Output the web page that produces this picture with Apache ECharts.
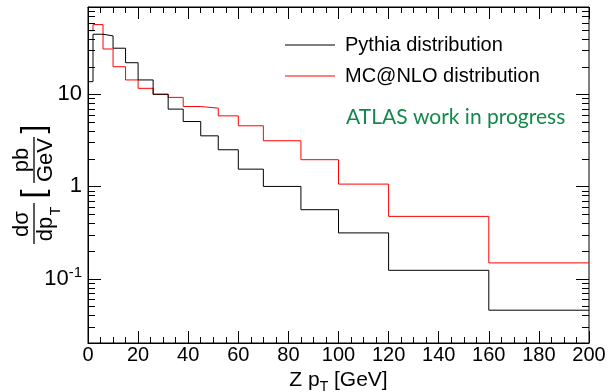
<!DOCTYPE html>
<html>
<head>
<meta charset="utf-8">
<script src="https://cdn.jsdelivr.net/npm/echarts@6/dist/echarts.min.js"></script>
<style>
  html, body { margin: 0; padding: 0; background: #ffffff; }
  #chart { width: 609px; height: 392px; }
</style>
</head>
<body>
<div id="chart"></div>
<script>
// Z pT bin edges [GeV]
const binEdges = [0, 2, 6, 10, 15, 20, 26, 32, 38, 45, 52, 60, 70, 85, 100, 120, 160, 200];
// dsigma/dpT [pb/GeV] per bin
const pythia  = [13.7, 44.8, 43.0, 31.6, 22.0, 14.3, 10.0, 6.9, 5.06, 3.54, 2.50, 1.54, 1.00, 0.559, 0.313, 0.123, 0.0454];
const mcatnlo = [49.0, 57.0, 31.0, 19.9, 14.3, 11.6, 10.0, 9.25, 7.36, 7.07, 5.83, 4.55, 3.13, 1.95, 1.06, 0.473, 0.148];
const seriesNames = ['Pythia distribution', 'MC@NLO distribution'];
const seriesColors = ['#000000', '#ff0000'];
const yDecadeLabels = { '-1': '10{sup|-1}', '0': '1', '1': '10' };

const Y_MIN = 0.02, Y_MAX = 88.5;
const FONT = 'Arial, "Liberation Sans", Helvetica, sans-serif';

// histogram outline: one point per bin left edge plus the closing right edge
function stepPoints(vals) {
  const pts = vals.map((v, i) => [binEdges[i], v]);
  pts.push([binEdges[binEdges.length - 1], vals[vals.length - 1]]);
  return pts;
}

function isDecade(v) {
  const l = Math.log10(v);
  return Math.abs(l - Math.round(l)) < 1e-6;
}

// log-axis tick values 1..9 x 10^n inside the y range
const yTickValues = [];
for (let e = -2; e <= 1; e++) {
  for (let m = 1; m <= 9; m++) {
    const v = +(m * Math.pow(10, e)).toPrecision(6);
    if (v >= Y_MIN - 1e-9 && v <= Y_MAX) yTickValues.push(v);
  }
}

const chart = echarts.init(document.getElementById('chart'), null, { renderer: 'canvas' });

const xAxisCommon = {
  type: 'value', min: 0, max: 200, interval: 20,
  splitLine: { show: false },
  axisLine: { show: true, onZero: false, lineStyle: { color: '#000', width: 1 } },
  axisTick: { show: true, inside: true, length: 12, lineStyle: { color: '#000' } },
  minorTick: { show: true, splitNumber: 4, length: 6, lineStyle: { color: '#000' } }
};

function t(text, x, y, size, va) {
  return {
    type: 'text', x: x, y: y,
    style: {
      text: text, font: size + 'px ' + FONT, fill: '#000',
      align: 'center', verticalAlign: va, textAlign: 'center', textVerticalAlign: va
    }
  };
}

chart.setOption({
  animation: false,
  backgroundColor: '#ffffff',
  grid: {
    left: 88, right: 20, top: 7, bottom: 49,
    show: true, borderColor: '#000', borderWidth: 1,
    containLabel: false, outerBoundsMode: 'none'
  },
  legend: {
    show: true,
    data: seriesNames,
    orient: 'vertical',
    left: 285, top: 35,
    padding: 0,
    icon: 'rect',
    itemWidth: 50, itemHeight: 1, itemGap: 11,
    selectedMode: false,
    textStyle: { fontFamily: FONT, fontSize: 20, color: '#000', padding: [0, 0, 0, 5] }
  },
  xAxis: [
    Object.assign({}, xAxisCommon, {
      position: 'bottom',
      axisLabel: { show: true, fontFamily: FONT, fontSize: 20, color: '#000', margin: 2 },
      name: 'Z p{sub|T} [GeV]',
      nameLocation: 'middle',
      nameGap: 22,
      nameTextStyle: {
        fontFamily: FONT, fontSize: 21, color: '#000',
        rich: { sub: { fontFamily: FONT, fontSize: 14, color: '#000', padding: [14, 0, 0, 0] } }
      }
    }),
    Object.assign({}, xAxisCommon, {
      position: 'top',
      axisLabel: { show: false }
    })
  ],
  yAxis: [
    {
      type: 'log', logBase: 10, min: Y_MIN, max: Y_MAX,
      position: 'left',
      splitLine: { show: false },
      axisLine: { show: true, lineStyle: { color: '#000', width: 1 } },
      axisTick: { show: false },
      axisLabel: {
        show: true, margin: 6,
        showMinLabel: false, showMaxLabel: false,
        fontFamily: FONT, fontSize: 22, color: '#000',
        formatter: function (v) {
          if (!isDecade(v)) return '';
          return yDecadeLabels[String(Math.round(Math.log10(v)))] || '';
        },
        rich: { sup: { fontFamily: FONT, fontSize: 15, color: '#000', padding: [0, 0, 12, 0] } }
      }
    }
  ],
  graphic: [
    {
      type: 'text', silent: true,
      left: 346, top: 107,
      style: {
        text: 'ATLAS work in progress',
        font: '21px Lato, "Open Sans", sans-serif',
        fill: '#12894a'
      }
    },
    {
      // d sigma / d pT [pb / GeV], read bottom to top
      type: 'group', silent: true,
      x: 34, y: 190,
      rotation: Math.PI / 2,
      children: [
        t('d\u03c3', -34, -1, 22, 'bottom'),
        { type: 'line', shape: { x1: -54, y1: 0, x2: -13, y2: 0 }, style: { stroke: '#000', lineWidth: 1.3 } },
        t('dp', -39, 1, 22, 'top'),
        t('T', -21, 15, 14, 'top'),
        t('[', -4, 0, 32, 'middle'),
        t('pb', 30, -1, 22, 'bottom'),
        { type: 'line', shape: { x1: 7, y1: 0, x2: 53, y2: 0 }, style: { stroke: '#000', lineWidth: 1.3 } },
        t('GeV', 30, 1, 22, 'top'),
        t(']', 61, 0, 32, 'middle')
      ]
    }
  ],
  series: [
    {
      name: seriesNames[0], type: 'line', step: 'end',
      data: stepPoints(pythia),
      symbol: 'none', showSymbol: false,
      lineStyle: { color: seriesColors[0], width: 1 },
      itemStyle: { color: seriesColors[0] },
      silent: true, z: 3
    },
    {
      name: seriesNames[1], type: 'line', step: 'end',
      data: stepPoints(mcatnlo),
      symbol: 'none', showSymbol: false,
      lineStyle: { color: seriesColors[1], width: 1 },
      itemStyle: { color: seriesColors[1] },
      silent: true, z: 2
    },
    {
      // inward log ticks on the left and right frame edges
      name: 'yTicks', type: 'custom', silent: true, z: 4,
      data: yTickValues.map(v => [0, v]),
      encode: { x: 0, y: 1 },
      clip: false,
      renderItem: function (params, api) {
        const v = api.value(1);
        const pL = api.coord([0, v]);
        const pR = api.coord([200, v]);
        const len = isDecade(v) ? 13 : 7;
        const y = Math.round(pL[1]) + 0.5;
        return {
          type: 'group',
          children: [
            { type: 'line', shape: { x1: pL[0], y1: y, x2: pL[0] + len, y2: y }, style: { stroke: '#000', lineWidth: 1 } },
            { type: 'line', shape: { x1: pR[0], y1: y, x2: pR[0] - len, y2: y }, style: { stroke: '#000', lineWidth: 1 } }
          ]
        };
      }
    }
  ]
});
</script>
</body>
</html>
